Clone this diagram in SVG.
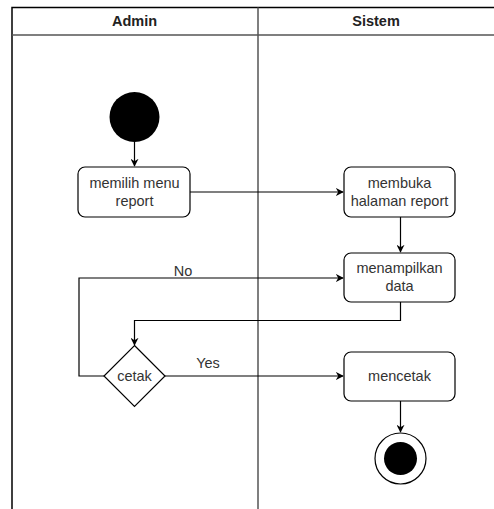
<svg xmlns="http://www.w3.org/2000/svg" width="494" height="509" viewBox="0 0 494 509">
  <style>
    .lane { fill: none; stroke: #000; stroke-width: 1.5; }
    .sep { stroke: #555; stroke-width: 1.5; }
    .head { font-family: "Liberation Sans", Arial, sans-serif; font-size: 14.5px; font-weight: bold; fill: #222; text-anchor: middle; }
    .act { fill: #fff; stroke: #000; stroke-width: 1.2; }
    .lbl { font-family: "Liberation Sans", Arial, sans-serif; font-size: 14.5px; fill: #333; text-anchor: middle; }
    .edge { fill: none; stroke: #000; stroke-width: 1.2; }
  </style>
  <defs>
    <marker id="arr" viewBox="0 0 10 10" refX="9" refY="5" markerWidth="8" markerHeight="8" markerUnits="userSpaceOnUse" orient="auto">
      <path d="M0,0 L10,5 L0,10 L3,5 Z" fill="#000"/>
    </marker>
  </defs>
  <rect width="494" height="509" fill="#fff"/>

  <!-- swimlane frame -->
  <g id="pool">
    <path class="lane" d="M12,509 V7.5 H500"/>
    <line class="sep" x1="12" y1="35" x2="500" y2="35"/>
    <line class="sep" x1="258" y1="7.5" x2="258" y2="509"/>
    <text class="head" x="134.5" y="26">Admin</text>
    <text class="head" x="376" y="26">Sistem</text>
  </g>

  <!-- connectors -->
  <g id="edges">
    <path class="edge" d="M134.5,142 V166" marker-end="url(#arr)"/>
    <path class="edge" d="M190,192 H343" marker-end="url(#arr)"/>
    <path class="edge" d="M400.5,217 V252" marker-end="url(#arr)"/>
    <path class="edge" d="M400.5,302 V320.5 H134.5 V345" marker-end="url(#arr)"/>
    <path class="edge" d="M104,376 H79 V278 H343" marker-end="url(#arr)"/>
    <text class="lbl" x="183" y="276">No</text>
    <path class="edge" d="M165,376 H343" marker-end="url(#arr)"/>
    <text class="lbl" x="208" y="368">Yes</text>
    <path class="edge" d="M400.5,401 V432" marker-end="url(#arr)"/>
  </g>

  <!-- nodes -->
  <g id="start">
    <circle cx="134.5" cy="117" r="25" fill="#000"/>
  </g>
  <g id="memilih">
    <rect class="act" x="78" y="167" width="112" height="50" rx="7"/>
    <text class="lbl" x="134.5" y="188">memilih menu</text>
    <text class="lbl" x="134.5" y="206">report</text>
  </g>
  <g id="membuka">
    <rect class="act" x="344" y="167" width="111" height="50" rx="7"/>
    <text class="lbl" x="399.5" y="188">membuka</text>
    <text class="lbl" x="399.5" y="206">halaman report</text>
  </g>
  <g id="menampilkan">
    <rect class="act" x="344" y="253" width="111" height="49" rx="7"/>
    <text class="lbl" x="399.5" y="273">menampilkan</text>
    <text class="lbl" x="399.5" y="291">data</text>
  </g>
  <g id="cetak">
    <path class="act" d="M134.5,345.5 L165,376 L134.5,406.5 L104,376 Z"/>
    <text class="lbl" x="134.5" y="381">cetak</text>
  </g>
  <g id="mencetak">
    <rect class="act" x="344" y="352" width="111" height="49" rx="7"/>
    <text class="lbl" x="399.5" y="381">mencetak</text>
  </g>
  <g id="end">
    <circle cx="400.5" cy="458.5" r="25.5" fill="#fff" stroke="#000" stroke-width="1.2"/>
    <circle cx="400.5" cy="458.5" r="16.5" fill="#000"/>
  </g>
</svg>
